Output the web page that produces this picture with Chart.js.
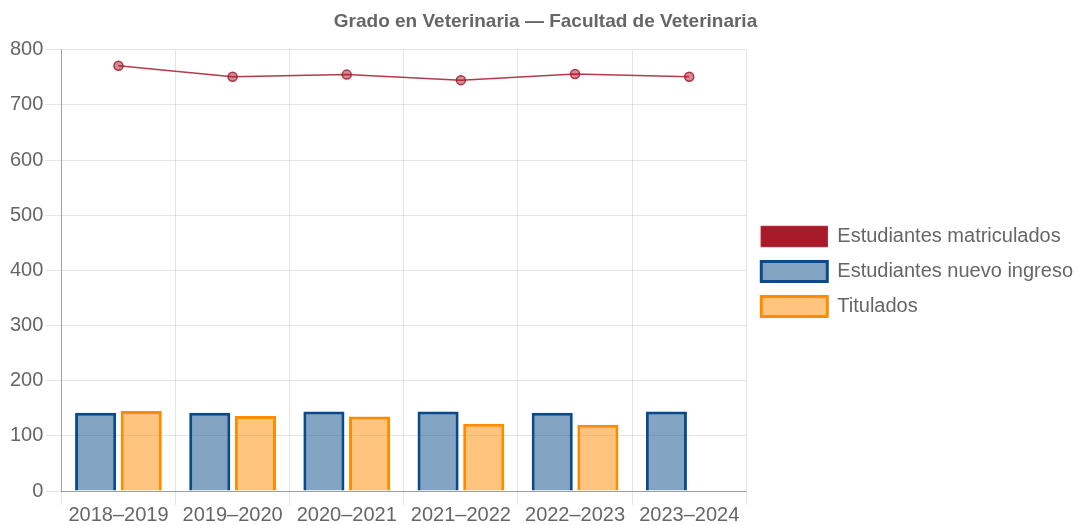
<!DOCTYPE html>
<html>
<head>
<meta charset="utf-8">
<script src="https://cdn.jsdelivr.net/npm/chart.js@4"></script>
<style>
  html, body { margin: 0; padding: 0; background: #fff; }
  #wrap { width: 1078px; height: 525px; }
</style>
</head>
<body>
<div id="wrap"><canvas id="chart"></canvas></div>
<script>
// cursos
var cursos = ["2018–2019", "2019–2020", "2020–2021", "2021–2022", "2022–2023", "2023–2024"];
var matriculados = [771, 751, 755, 745, 756, 751];
var nuevoIngreso = [142, 142, 144, 144, 142, 144];
var titulados = [145, 136, 135, 122, 120, 0];

Chart.defaults.font.family = "'Liberation Sans', Arial, sans-serif";
Chart.defaults.color = "#666";

var data = {
  labels: cursos,
  datasets: [{
    type: 'line',
    label: "Estudiantes matriculados",
    data: matriculados,
    borderColor: "rgba(168,25,42,0.85)",
    backgroundColor: "#a8192a",
    pointBackgroundColor: "rgba(168,25,42,0.5)",
    pointBorderColor: "rgba(168,25,42,0.85)",
    pointRadius: 4.5,
    pointBorderWidth: 1.5,
    borderWidth: 1.5,
    fill: false,
    tension: 0
  }, {
    label: "Estudiantes nuevo ingreso",
    data: nuevoIngreso,
    backgroundColor: "rgba(10,74,138,0.5)",
    borderColor: "#0a4a8a",
    borderWidth: 3
  }, {
    label: "Titulados",
    data: titulados,
    backgroundColor: "rgba(255,140,0,0.5)",
    borderColor: "#ff8c00",
    borderWidth: 3
  }]
};

var options = {
  responsive: true,
  maintainAspectRatio: false,
  animation: false,
  layout: { padding: { left: 8, right: -5 } },
  plugins: {
    title: {
      display: true,
      text: "Grado en Veterinaria — Facultad de Veterinaria",
      font: { size: 19, weight: 'bold' },
      color: "#666",
      padding: { top: 10, bottom: 17 }
    },
    legend: {
      position: 'right',
      maxWidth: 400,
      // empty title just pushes the entries down a little
      title: { display: true, text: ' ', font: { size: 10 }, padding: 3 },
      labels: {
        boxWidth: 66,
        boxHeight: 20,
        font: { size: 20 },
        color: "#666",
        padding: 15
      }
    },
    tooltip: { enabled: false }
  },
  scales: {
    y: {
      min: 0,
      max: 800,
      ticks: { stepSize: 100, font: { size: 20 }, color: "#666", padding: 2 },
      grid: { color: "rgba(0,0,0,0.1)", tickLength: 16 },
      border: { color: "rgba(0,0,0,0.3)" }
    },
    x: {
      ticks: { font: { size: 20, lineHeight: 1 }, color: "#666", padding: 0 },
      grid: { color: "rgba(0,0,0,0.1)", tickLength: 14 },
      border: { color: "rgba(0,0,0,0.3)" }
    }
  }
};

new Chart('chart', {
  type: 'bar',
  data: data,
  options: options
});
</script>
</body>
</html>
